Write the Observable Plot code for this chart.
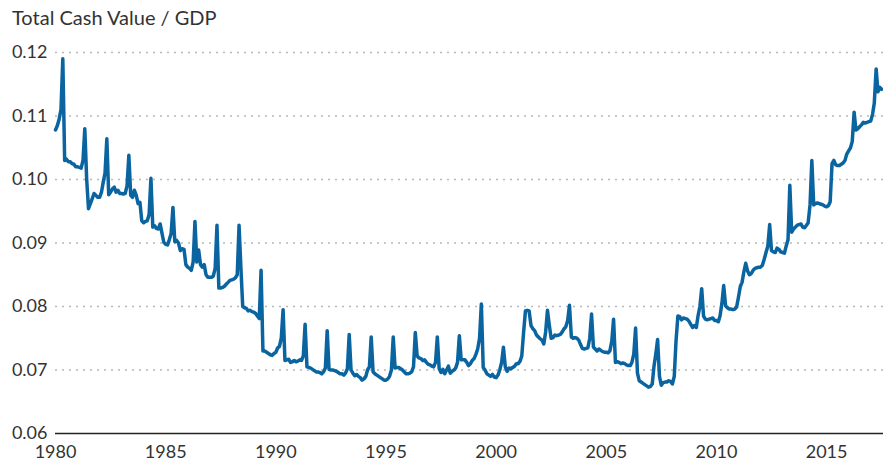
<!DOCTYPE html>
<html>
<head>
<meta charset="utf-8">
<script src="https://cdn.jsdelivr.net/npm/d3@7"></script>
<script src="https://cdn.jsdelivr.net/npm/@observablehq/plot@0.6"></script>
<style>
  html, body { margin: 0; padding: 0; background: #fff; }
  #wrap { width: 883px; height: 465px; position: relative; overflow: hidden; }
  #title { height: 32px; line-height: 34px; padding-left: 12px; font-family: Lato, "Open Sans", sans-serif; font-size: 20px; color: #333; white-space: nowrap; }
  svg { display: block; }
</style>
</head>
<body>
<div id="wrap">
  <div id="title">Total Cash Value / GDP</div>
  <div id="chart"></div>
</div>
<script>
// Monthly values (Jan..Dec)
const values1980s = [
  0.1078, 0.1085, 0.1095, 0.1110, 0.1190, 0.1030, 0.1032, 0.1028, 0.1028, 0.1025, 0.1024, 0.1020, // 1980
  0.1020, 0.1019, 0.1018, 0.1030, 0.1080, 0.1000, 0.0954, 0.0962, 0.0970, 0.0978, 0.0975, 0.0972, // 1981
  0.0972, 0.0980, 0.0995, 0.1010, 0.1064, 0.0976, 0.0980, 0.0985, 0.0988, 0.0980, 0.0983, 0.0978, // 1982
  0.0978, 0.0977, 0.0978, 0.0990, 0.1038, 0.0975, 0.0972, 0.0983, 0.0975, 0.0962, 0.0964, 0.0935, // 1983
  0.0932, 0.0934, 0.0935, 0.0945, 0.1002, 0.0925, 0.0927, 0.0923, 0.0922, 0.0930, 0.0915, 0.0901, // 1984
  0.0898, 0.0897, 0.0905, 0.0915, 0.0956, 0.0902, 0.0904, 0.0900, 0.0888, 0.0891, 0.0890, 0.0866, // 1985
  0.0862, 0.0860, 0.0857, 0.0870, 0.0934, 0.0870, 0.0889, 0.0866, 0.0862, 0.0866, 0.0850, 0.0846, // 1986
  0.0846, 0.0846, 0.0848, 0.0860, 0.0928, 0.0829, 0.0829, 0.0830, 0.0832, 0.0835, 0.0838, 0.0841, // 1987
  0.0842, 0.0843, 0.0845, 0.0850, 0.0928, 0.0860, 0.0800, 0.0798, 0.0797, 0.0793, 0.0794, 0.0792, // 1988
  0.0791, 0.0789, 0.0785, 0.0781, 0.0857, 0.0730, 0.0730, 0.0728, 0.0726, 0.0724, 0.0723, 0.0726  // 1989
];
const values1990s = [
  0.0728, 0.0735, 0.0737, 0.0750, 0.0795, 0.0715, 0.0716, 0.0717, 0.0712, 0.0713, 0.0715, 0.0713, // 1990
  0.0714, 0.0716, 0.0715, 0.0722, 0.0772, 0.0705, 0.0704, 0.0703, 0.0701, 0.0699, 0.0697, 0.0697, // 1991
  0.0696, 0.0694, 0.0697, 0.0703, 0.0762, 0.0701, 0.0700, 0.0700, 0.0699, 0.0698, 0.0696, 0.0694, // 1992
  0.0694, 0.0692, 0.0695, 0.0702, 0.0756, 0.0700, 0.0695, 0.0691, 0.0693, 0.0690, 0.0688, 0.0684, // 1993
  0.0686, 0.0690, 0.0700, 0.0705, 0.0752, 0.0697, 0.0694, 0.0692, 0.0690, 0.0688, 0.0686, 0.0684, // 1994
  0.0684, 0.0686, 0.0690, 0.0700, 0.0752, 0.0703, 0.0704, 0.0704, 0.0702, 0.0700, 0.0697, 0.0694, // 1995
  0.0694, 0.0695, 0.0697, 0.0705, 0.0759, 0.0722, 0.0719, 0.0718, 0.0715, 0.0716, 0.0712, 0.0709, // 1996
  0.0708, 0.0706, 0.0705, 0.0712, 0.0752, 0.0702, 0.0696, 0.0701, 0.0694, 0.0700, 0.0706, 0.0695, // 1997
  0.0698, 0.0700, 0.0703, 0.0712, 0.0754, 0.0716, 0.0716, 0.0716, 0.0712, 0.0707, 0.0710, 0.0715, // 1998
  0.0718, 0.0725, 0.0733, 0.0750, 0.0804, 0.0704, 0.0700, 0.0694, 0.0692, 0.0690, 0.0693, 0.0689  // 1999
];
const values2000s = [
  0.0688, 0.0692, 0.0700, 0.0712, 0.0736, 0.0705, 0.0698, 0.0703, 0.0702, 0.0704, 0.0706, 0.0710, // 2000
  0.0710, 0.0714, 0.0722, 0.0760, 0.0793, 0.0794, 0.0793, 0.0770, 0.0765, 0.0762, 0.0755, 0.0752, // 2001
  0.0749, 0.0747, 0.0741, 0.0760, 0.0794, 0.0770, 0.0750, 0.0751, 0.0755, 0.0754, 0.0755, 0.0756, // 2002
  0.0760, 0.0765, 0.0768, 0.0778, 0.0802, 0.0752, 0.0750, 0.0751, 0.0750, 0.0747, 0.0740, 0.0734, // 2003
  0.0733, 0.0734, 0.0735, 0.0750, 0.0788, 0.0736, 0.0733, 0.0730, 0.0733, 0.0731, 0.0729, 0.0728, // 2004
  0.0728, 0.0727, 0.0730, 0.0745, 0.0780, 0.0712, 0.0713, 0.0712, 0.0710, 0.0711, 0.0710, 0.0708, // 2005
  0.0707, 0.0707, 0.0712, 0.0725, 0.0766, 0.0695, 0.0683, 0.0681, 0.0679, 0.0677, 0.0675, 0.0673, // 2006
  0.0674, 0.0678, 0.0705, 0.0725, 0.0748, 0.0690, 0.0676, 0.0680, 0.0681, 0.0681, 0.0683, 0.0682, // 2007
  0.0678, 0.0690, 0.0745, 0.0785, 0.0784, 0.0779, 0.0782, 0.0781, 0.0780, 0.0777, 0.0772, 0.0767, // 2008
  0.0770, 0.0767, 0.0785, 0.0800, 0.0828, 0.0785, 0.0780, 0.0779, 0.0780, 0.0781, 0.0782, 0.0778  // 2009
];
const values2010s = [
  0.0778, 0.0776, 0.0785, 0.0805, 0.0833, 0.0801, 0.0798, 0.0796, 0.0796, 0.0795, 0.0796, 0.0799, // 2010
  0.0815, 0.0832, 0.0838, 0.0855, 0.0868, 0.0856, 0.0850, 0.0852, 0.0857, 0.0860, 0.0861, 0.0862, // 2011
  0.0862, 0.0865, 0.0874, 0.0885, 0.0895, 0.0929, 0.0888, 0.0886, 0.0885, 0.0892, 0.0890, 0.0886, // 2012
  0.0885, 0.0884, 0.0895, 0.0905, 0.0991, 0.0917, 0.0922, 0.0925, 0.0928, 0.0929, 0.0930, 0.0925, // 2013
  0.0924, 0.0928, 0.0932, 0.0960, 0.1030, 0.0960, 0.0962, 0.0963, 0.0962, 0.0961, 0.0960, 0.0958, // 2014
  0.0957, 0.0959, 0.0965, 0.1025, 0.1030, 0.1023, 0.1022, 0.1022, 0.1024, 0.1026, 0.1030, 0.1040, // 2015
  0.1045, 0.1050, 0.1060, 0.1106, 0.1078, 0.1080, 0.1083, 0.1086, 0.1090, 0.1089, 0.1090, 0.1091, // 2016
  0.1092, 0.1103, 0.1120, 0.1174, 0.1138, 0.1145, 0.1142                                          // 2017
];
const startYear = 1980;
const xTickYears = [1980, 1985, 1990, 1995, 2000, 2005, 2010, 2015];
const yTicks = [0.06, 0.07, 0.08, 0.09, 0.10, 0.11, 0.12];

const allValues = [...values1980s, ...values1990s, ...values2000s, ...values2010s];
const series = allValues.map((v, i) => ({ date: new Date(Date.UTC(startYear, i, 1)), value: v }));
const xTicks = xTickYears.map(y => new Date(Date.UTC(y, 0, 1)));

const chart = Plot.plot({
  width: 883,
  height: 433,
  marginTop: 20,
  marginBottom: 32,
  marginLeft: 55,
  marginRight: 0,
  style: { fontFamily: "Lato, 'Open Sans', sans-serif", fontSize: "18px", color: "#333", background: "#fff" },
  x: { type: "utc", domain: [new Date(Date.UTC(1980, 0, 1)), new Date(Date.UTC(2017, 7, 1))] },
  y: { domain: [0.06, 0.12] },
  marks: [
    Plot.ruleY(yTicks.filter(t => t > 0.06), { stroke: "#b8b8b8", strokeWidth: 1.5, strokeDasharray: "2,5" }),
    Plot.ruleY([0.06], { stroke: "#222", strokeWidth: 1.5 }),
    Plot.axisY({ ticks: yTicks, tickSize: 0, tickPadding: 8, tickFormat: d3.format(".2f"), label: null, fill: "#333" }),
    Plot.axisX({ ticks: xTicks, tickSize: 0, tickPadding: 12, tickFormat: d => String(d.getUTCFullYear()), label: null, fill: "#333" }),
    Plot.lineY(series, { x: "date", y: "value", stroke: "#0a64a0", strokeWidth: 3.5, strokeLinejoin: "round", strokeLinecap: "round" })
  ]
});
document.getElementById("chart").appendChild(chart);
</script>
</body>
</html>
